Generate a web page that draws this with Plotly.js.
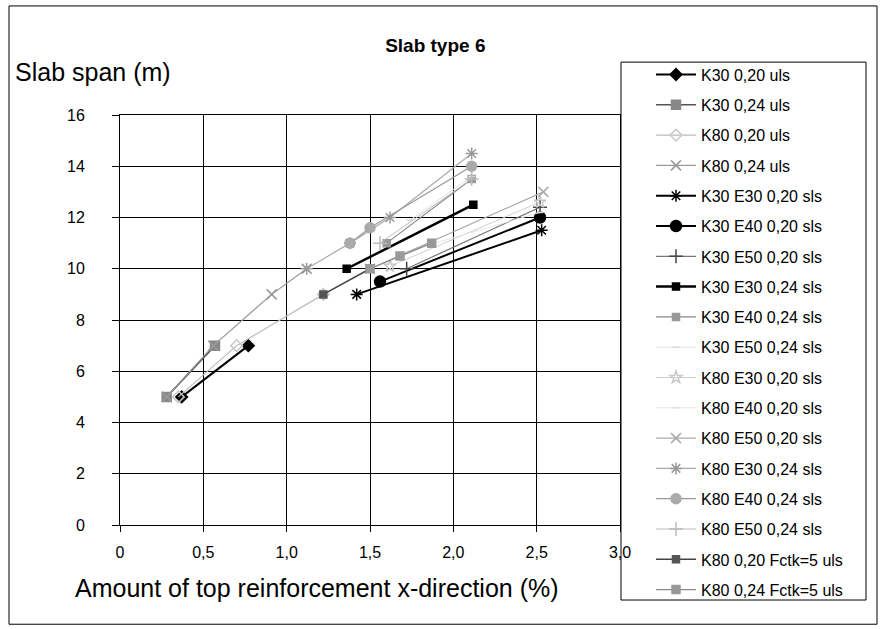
<!DOCTYPE html>
<html>
<head>
<meta charset="utf-8">
<script src="https://cdn.plot.ly/plotly-3.0.1.min.js"></script>
<style>html,body{margin:0;padding:0;background:#fff;}#chart{width:883px;height:629px;}</style>
</head>
<body>
<div id="chart"></div>
<script>
// Series names (legend order)
const seriesNames = [
  "K30 0,20 uls", "K30 0,24 uls", "K80 0,20 uls", "K80 0,24 uls",
  "K30 E30 0,20 sls", "K30 E40 0,20 sls", "K30 E50 0,20 sls",
  "K30 E30 0,24 sls", "K30 E40 0,24 sls", "K30 E50 0,24 sls",
  "K80 E30 0,20 sls", "K80 E40 0,20 sls", "K80 E50 0,20 sls",
  "K80 E30 0,24 sls", "K80 E40 0,24 sls", "K80 E50 0,24 sls",
  "K80 0,20 Fctk=5 uls", "K80 0,24 Fctk=5 uls"
];
// Reinforcement amount (%) per series
const xK30_020_uls = [0.37, 0.77];
const xK30_024_uls = [0.28, 0.57];
const xK80_020_uls = [0.35, 0.70, 1.22];
const xK80_024_uls = [0.28, 0.56, 0.91, 1.12];
const xK30E30_020 = [1.42, 2.53];
const xK30E40_020 = [1.56, 2.52];
const xK30E50_020 = [1.72, 2.52];
const xK30E30_024 = [1.36, 2.12];
const xK30E40_024 = [1.60, 2.11];
const xK30E50_024 = [1.74, 2.11];
const xK80E30_020 = [1.62, 2.52];
const xK80E40_020 = [1.68, 2.52];
const xK80E50_020 = [1.50, 2.54];
const xK80E30_024 = [1.12, 1.38, 1.62, 2.11];
const xK80E40_024 = [1.38, 1.50, 2.11];
const xK80E50_024 = [1.56, 2.11];
const xK80_020_F5 = [1.22, 1.50];
const xK80_024_F5 = [1.50, 1.68, 1.87];
// Slab span (m) per series
const yK30_020_uls = [5, 7];
const yK30_024_uls = [5, 7];
const yK80_020_uls = [5, 7, 9];
const yK80_024_uls = [5, 7, 9, 10];
const yK30E30_020 = [9, 11.5];
const yK30E40_020 = [9.5, 12];
const yK30E50_020 = [10, 12.4];
const yK30E30_024 = [10, 12.5];
const yK30E40_024 = [11, 13.5];
const yK30E50_024 = [11.9, 13.6];
const yK80E30_020 = [10.1, 12.6];
const yK80E40_020 = [10.6, 12.2];
const yK80E50_020 = [10, 13];
const yK80E30_024 = [10, 11, 12, 14.5];
const yK80E40_024 = [11, 11.6, 14];
const yK80E50_024 = [11, 13.5];
const yK80_020_F5 = [9, 10];
const yK80_024_F5 = [10, 10.5, 11];
// Axis ticks
const xTickVals = [0, 0.5, 1, 1.5, 2, 2.5, 3];
const xTickText = ["0", "0,5", "1,0", "1,5", "2,0", "2,5", "3,0"];
const yTickVals = [0, 2, 4, 6, 8, 10, 12, 14, 16];

const xs = [xK30_020_uls, xK30_024_uls, xK80_020_uls, xK80_024_uls, xK30E30_020, xK30E40_020, xK30E50_020,
  xK30E30_024, xK30E40_024, xK30E50_024, xK80E30_020, xK80E40_020, xK80E50_020,
  xK80E30_024, xK80E40_024, xK80E50_024, xK80_020_F5, xK80_024_F5];
const ys = [yK30_020_uls, yK30_024_uls, yK80_020_uls, yK80_024_uls, yK30E30_020, yK30E40_020, yK30E50_020,
  yK30E30_024, yK30E40_024, yK30E50_024, yK80E30_020, yK80E40_020, yK80E50_020,
  yK80E30_024, yK80E40_024, yK80E50_024, yK80_020_F5, yK80_024_F5];

const styles = [
  {lc:"#000", lw:2, sym:"diamond", mc:"#000", ms:9},
  {lc:"#555", lw:1.5, sym:"square", mc:"#888", ms:9},
  {lc:"#bbb", lw:1.2, sym:"diamond-open", mc:"#c8c8c8", ms:9},
  {lc:"#999", lw:1.2, sym:"x-thin-open", mc:"#999", ms:10},
  {lc:"#000", lw:2, sym:"asterisk-open", mc:"#000", ms:10},
  {lc:"#000", lw:2, sym:"circle", mc:"#000", ms:11},
  {lc:"#777", lw:1.2, sym:"cross-thin-open", mc:"#444", ms:10},
  {lc:"#000", lw:2.5, sym:"square", mc:"#000", ms:7},
  {lc:"#888", lw:1.2, sym:"square", mc:"#999", ms:7},
  {lc:"#e2e2e2", lw:1, sym:"line-ew-open", mc:"#d8d8d8", ms:5},
  {lc:"#d0d0d0", lw:1, sym:"star-open", mc:"#c8c8c8", ms:9},
  {lc:"#e6e6e6", lw:1, sym:"line-ew-open", mc:"#e0e0e0", ms:5},
  {lc:"#aaa", lw:1.2, sym:"x-thin-open", mc:"#aaa", ms:10},
  {lc:"#aaa", lw:1.2, sym:"asterisk-open", mc:"#999", ms:10},
  {lc:"#999", lw:1.2, sym:"circle", mc:"#aaa", ms:10},
  {lc:"#bbb", lw:1, sym:"cross-thin-open", mc:"#bbb", ms:10},
  {lc:"#444", lw:1.5, sym:"square", mc:"#555", ms:7},
  {lc:"#888", lw:1.2, sym:"square", mc:"#999", ms:8}
];

const traces = seriesNames.map((name, i) => ({
  type: "scatter", mode: "lines+markers", name: name,
  x: xs[i], y: ys[i], legendgroup: "g" + i,
  line: {color: styles[i].lc, width: styles[i].lw},
  marker: {symbol: styles[i].sym, color: styles[i].mc, size: styles[i].ms,
           line: {color: styles[i].mc, width: 1.5}}
}));

const font = "Liberation Sans, Arial, sans-serif";
const layout = {
  width: 883, height: 629,
  margin: {l: 120, r: 263, t: 115, b: 104},
  paper_bgcolor: "#fff", plot_bgcolor: "#fff",
  font: {family: font, color: "#000", size: 16},
  title: {text: "<b>Slab type 6</b>", x: 0.493, xref: "container", xanchor: "center",
          y: 0.928, yref: "container", yanchor: "middle", font: {size: 19, family: font}},
  xaxis: {range: [0, 3], tickvals: xTickVals, ticktext: xTickText,
          showgrid: true, gridcolor: "#000", gridwidth: 1,
          showline: true, linecolor: "#000", linewidth: 1, mirror: true,
          ticks: "outside", ticklen: 6, tickcolor: "#000", zeroline: false,
          ticklabelstandoff: 7, tickfont: {size: 16}, fixedrange: true},
  yaxis: {range: [0, 16], tickvals: yTickVals,
          showgrid: true, gridcolor: "#000", gridwidth: 1,
          showline: true, linecolor: "#000", linewidth: 1, mirror: true,
          ticks: "outside", ticklen: 7, tickcolor: "#000", zeroline: false,
          ticklabelstandoff: 24, tickfont: {size: 16}, fixedrange: true},
  legend: {x: 1.062, xanchor: "left", y: 1.14, yanchor: "top",
           borderwidth: 0, bgcolor: "rgba(0,0,0,0)", maxheight: 600,
           font: {size: 16, family: font}, tracegroupgap: 6.5, itemwidth: 40},
  showlegend: true,
  annotations: [
    {text: "Slab span (m)", xref: "paper", yref: "paper", x: -0.214, y: 1.105, xanchor: "left", yanchor: "middle",
     showarrow: false, font: {size: 25, family: font}},
    {text: "Amount of top reinforcement x-direction (%)", xref: "paper", yref: "paper",
     x: 0.394, y: -0.154, xanchor: "center", yanchor: "middle", showarrow: false, font: {size: 25, family: font}}
  ],
  shapes: [
    {type: "rect", xref: "paper", yref: "paper", x0: -0.222, x1: 1.514, y0: -0.242, y1: 1.266,
     line: {color: "#000", width: 1}, fillcolor: "rgba(0,0,0,0)", layer: "below"},
    {type: "rect", xref: "paper", yref: "paper", x0: 1.002, x1: 1.492, y0: -0.183, y1: 1.129,
     line: {color: "#000", width: 1}, fillcolor: "rgba(0,0,0,0)", layer: "above"}
  ]
};
Plotly.newPlot("chart", traces, layout, {displayModeBar: false, staticPlot: true});
</script>
</body>
</html>
